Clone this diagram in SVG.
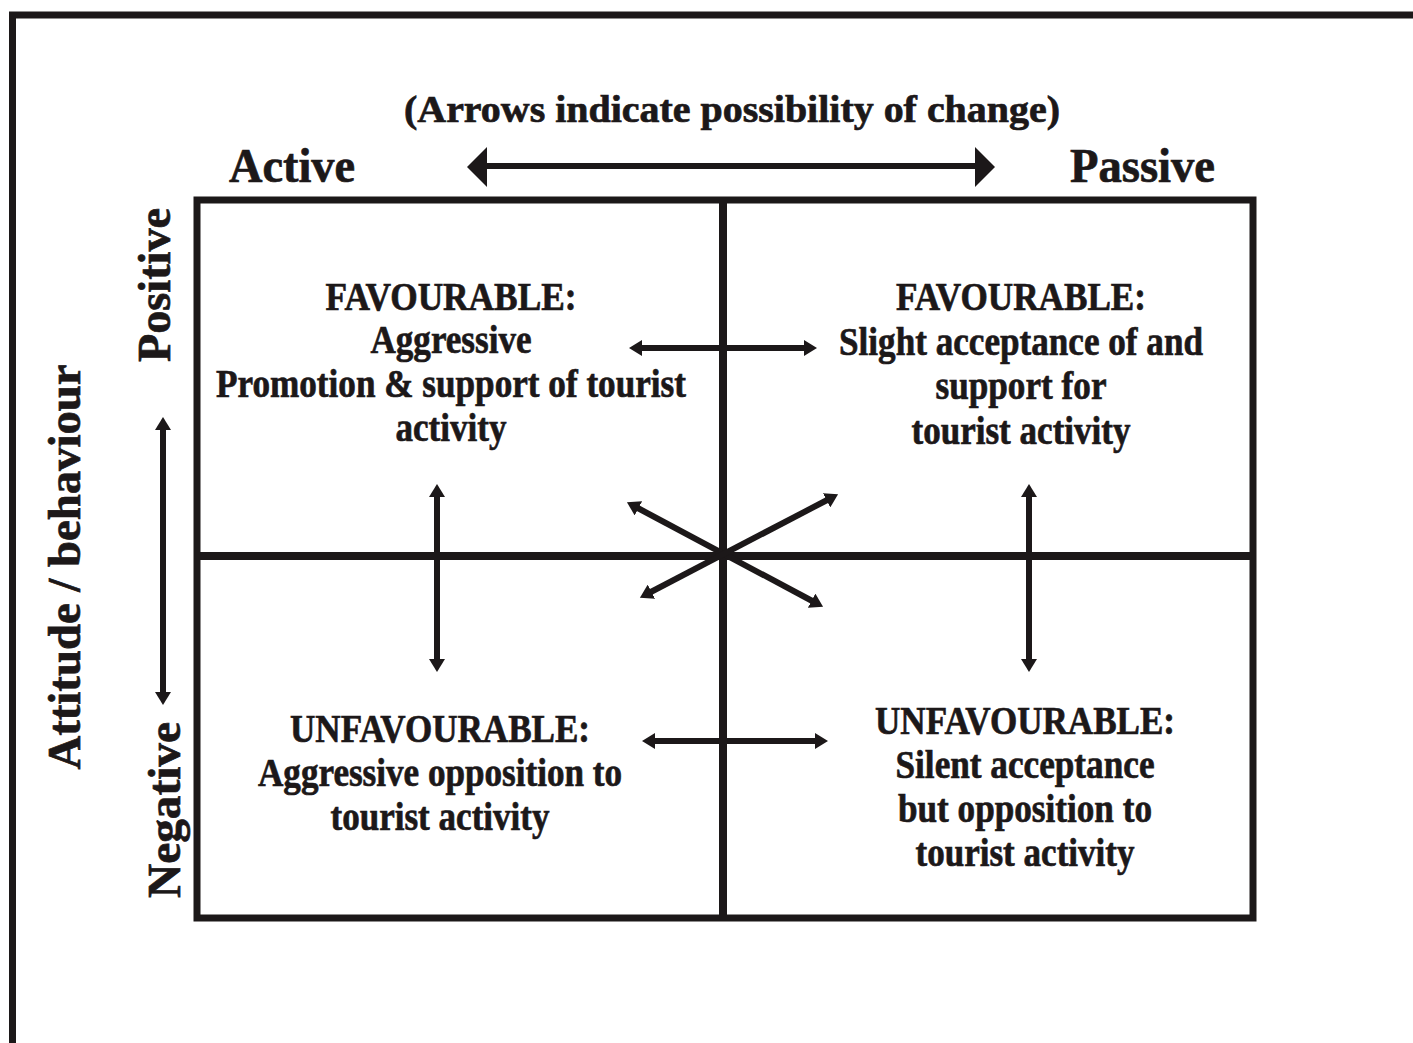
<svg xmlns="http://www.w3.org/2000/svg" width="1413" height="1043" viewBox="0 0 1413 1043">
  <style>
    .t { font-family: "Liberation Serif", "Times New Roman", serif; font-weight: bold; fill: #1c1819; stroke: #1c1819; stroke-width: 0.7; }
    .lbl { font-size: 48px; }
    .q { font-size: 41px; text-anchor: middle; }
    .frame { fill: none; stroke: #1c1819; stroke-width: 7; }
    .arr { fill: none; stroke: #1c1819; stroke-width: 6; marker-start: url(#head); marker-end: url(#head); }
  </style>
  <defs>
    <marker id="head" markerUnits="userSpaceOnUse" markerWidth="14" markerHeight="16" refX="5" refY="8" orient="auto-start-reverse">
      <path d="M0,0 L13,8 L0,16 Z" fill="#1c1819"/>
    </marker>
  </defs>

  <rect width="1413" height="1043" fill="#ffffff"/>

  <!-- page border (open to the right and bottom) -->
  <path class="frame" d="M12.5,1043 V15 H1413"/>

  <!-- heading and axis labels -->
  <g id="heading">
    <text class="t" x="404" y="122" font-size="38" textLength="656" lengthAdjust="spacingAndGlyphs">(Arrows indicate possibility of change)</text>
  </g>
  <g id="label-active">
    <text class="t lbl" x="229" y="182" textLength="126" lengthAdjust="spacingAndGlyphs">Active</text>
  </g>
  <g id="label-passive">
    <text class="t lbl" x="1070" y="182" textLength="145" lengthAdjust="spacingAndGlyphs">Passive</text>
  </g>
  <g id="label-attitude">
    <text class="t" transform="translate(80,567) rotate(-90)" font-size="46" text-anchor="middle" textLength="405" lengthAdjust="spacingAndGlyphs">Attitude / behaviour</text>
  </g>
  <g id="label-positive">
    <text class="t" transform="translate(170,285) rotate(-90)" font-size="46" text-anchor="middle" textLength="154" lengthAdjust="spacingAndGlyphs">Positive</text>
  </g>
  <g id="label-negative">
    <text class="t" transform="translate(180,810) rotate(-90)" font-size="46" text-anchor="middle" textLength="176" lengthAdjust="spacingAndGlyphs">Negative</text>
  </g>

  <!-- quadrant grid -->
  <g id="grid">
    <rect class="frame" x="197" y="200" width="1056" height="718"/>
    <line x1="723" y1="200" x2="723" y2="918" stroke="#1c1819" stroke-width="8"/>
    <line x1="197" y1="556" x2="1253" y2="556" stroke="#1c1819" stroke-width="8"/>
  </g>

  <g id="q-active-positive">
    <text class="t q" x="451" y="310" textLength="251" lengthAdjust="spacingAndGlyphs">FAVOURABLE:</text>
    <text class="t q" x="451" y="353" textLength="161" lengthAdjust="spacingAndGlyphs">Aggressive</text>
    <text class="t q" x="451" y="397" textLength="470" lengthAdjust="spacingAndGlyphs">Promotion &amp; support of tourist</text>
    <text class="t q" x="451" y="441" textLength="111" lengthAdjust="spacingAndGlyphs">activity</text>
  </g>

  <g id="q-passive-positive">
    <text class="t q" x="1021" y="310" textLength="250" lengthAdjust="spacingAndGlyphs">FAVOURABLE:</text>
    <text class="t q" x="1021" y="355" textLength="364" lengthAdjust="spacingAndGlyphs">Slight acceptance of and</text>
    <text class="t q" x="1021" y="399" textLength="171" lengthAdjust="spacingAndGlyphs">support for</text>
    <text class="t q" x="1021" y="444" textLength="219" lengthAdjust="spacingAndGlyphs">tourist activity</text>
  </g>

  <g id="q-active-negative">
    <text class="t q" x="440" y="742" textLength="300" lengthAdjust="spacingAndGlyphs">UNFAVOURABLE:</text>
    <text class="t q" x="440" y="786" textLength="364" lengthAdjust="spacingAndGlyphs">Aggressive opposition to</text>
    <text class="t q" x="440" y="830" textLength="219" lengthAdjust="spacingAndGlyphs">tourist activity</text>
  </g>

  <g id="q-passive-negative">
    <text class="t q" x="1025" y="734" textLength="300" lengthAdjust="spacingAndGlyphs">UNFAVOURABLE:</text>
    <text class="t q" x="1025" y="778" textLength="259" lengthAdjust="spacingAndGlyphs">Silent acceptance</text>
    <text class="t q" x="1025" y="822" textLength="254" lengthAdjust="spacingAndGlyphs">but opposition to</text>
    <text class="t q" x="1025" y="866" textLength="219" lengthAdjust="spacingAndGlyphs">tourist activity</text>
  </g>

  <!-- connectors: two-way arrows of possible change -->
  <g id="connectors">
    <!-- active / passive scale -->
    <line x1="486" y1="166" x2="976" y2="166" stroke="#1c1819" stroke-width="6"/>
    <path d="M467,167 L487,147 L487,187 Z" fill="#1c1819"/>
    <path d="M995,167 L975,147 L975,187 Z" fill="#1c1819"/>

    <!-- positive / negative scale -->
    <line class="arr" x1="163" y1="425" x2="163" y2="697"/>

    <!-- horizontal moves -->
    <line class="arr" x1="637" y1="348" x2="809" y2="348"/>
    <line class="arr" x1="650" y1="741" x2="820" y2="741"/>

    <!-- vertical moves -->
    <line class="arr" x1="437" y1="492" x2="437" y2="664"/>
    <line class="arr" x1="1029" y1="492" x2="1029" y2="664"/>

    <!-- diagonal moves through the centre -->
    <line class="arr" x1="634" y1="506" x2="816" y2="603"/>
    <line class="arr" x1="647" y1="594" x2="831" y2="498"/>
  </g>
</svg>
